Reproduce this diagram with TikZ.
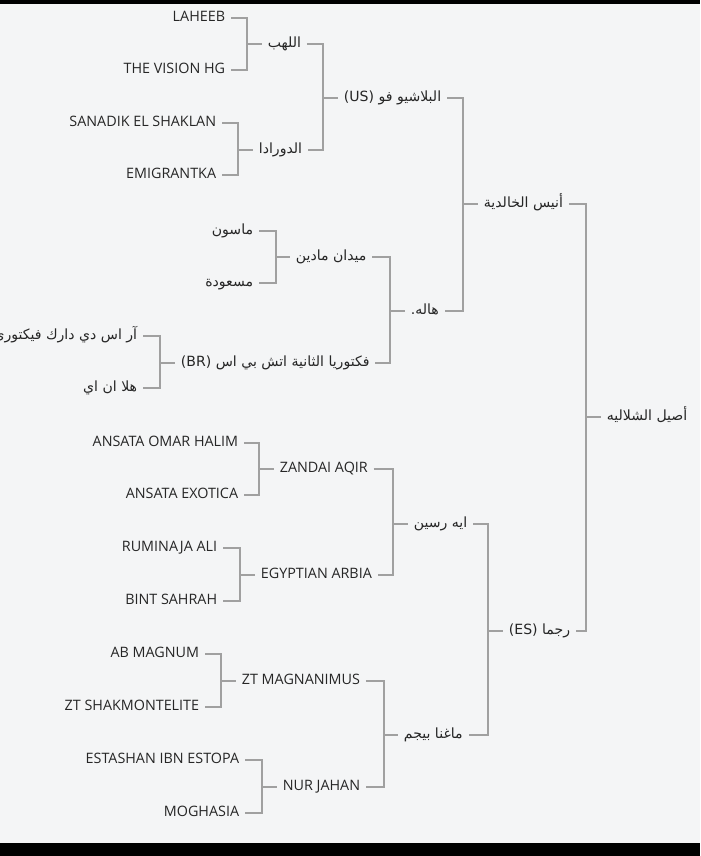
\documentclass[tikz,border=0pt]{standalone}
\usepackage{fontspec}
\setmainfont{Open Sans}
\newfontfamily\arabicfont[Script=Arabic]{DejaVu Sans}
\TeXXeTstate=1
\usepackage{tikz}
\usetikzlibrary{positioning}
\usepackage{xcolor}
\definecolor{paper}{HTML}{F4F5F6}
\definecolor{ink}{HTML}{262626}
\definecolor{wire}{HTML}{A0A0A0}
\newcommand{\artext}[1]{{\arabicfont\fontsize{10}{12}\selectfont\beginR #1\endR}}

\begin{document}
\begin{tikzpicture}[x=0.025cm, y=-0.025cm]
		% 定义样式
		\tikzstyle{leaf} = [anchor=east, inner xsep=4pt, inner ysep=0pt, text height=7pt, text depth=2pt, text=ink, font=\fontsize{10.2}{12}\selectfont]	% 最外一代
		\tikzstyle{horse} = [anchor=west, inner xsep=4pt, inner ysep=0pt, text height=7pt, text depth=2pt, text=ink, font=\fontsize{10.2}{12}\selectfont]	% 中间各代
		\tikzstyle{link} = [draw=wire, line width=1.4pt]	% 连线
		\useasboundingbox (0,0) rectangle (700,856);
		\fill [paper] (0,0) rectangle (700,856);
		\fill [black] (0,0) rectangle (700,4);
		\fill [black] (0,843) rectangle (700,856);

		% 第四代
		\node (l1) [leaf] at (231,18) {LAHEEB};
		\node (l2) [leaf] at (231,70) {THE VISION HG};
		\node (l3) [leaf] at (222,123) {SANADIK EL SHAKLAN};
		\node (l4) [leaf] at (222,175) {EMIGRANTKA};
		\node (l5) [leaf] at (259,231) {\artext{ماسون}};
		\node (l6) [leaf] at (259,283) {\artext{مسعودة}};
		\node (l7) [leaf] at (143,336) {\artext{آر اس دي دارك فيكتوري}};
		\node (l8) [leaf] at (143,388) {\artext{هلا ان اي}};
		\node (l9) [leaf] at (244,443) {ANSATA OMAR HALIM};
		\node (l10) [leaf] at (244,495) {ANSATA EXOTICA};
		\node (l11) [leaf] at (223,548) {RUMINAJA ALI};
		\node (l12) [leaf] at (223,601) {BINT SAHRAH};
		\node (l13) [leaf] at (205,654) {AB MAGNUM};
		\node (l14) [leaf] at (205,707) {ZT SHAKMONTELITE};
		\node (l15) [leaf] at (245,760) {ESTASHAN IBN ESTOPA};
		\node (l16) [leaf] at (245,813) {MOGHASIA};

		% 第三代
		\node (lahab) [horse] at (262,44) {\artext{اللهب}};
		\node (dorada) [horse] at (253,150) {\artext{الدورادا}};
		\node (maydan) [horse] at (290,257) {\artext{ميدان مادين}};
		\node (victoria) [horse] at (175,363) {\artext{فكتوريا الثانية اتش بي اس \beginL(BR)\endL}};
		\node (zandai) [horse] at (274,469) {ZANDAI AQIR};
		\node (egyptian) [horse] at (255,575) {EGYPTIAN ARBIA};
		\node (magnanimus) [horse] at (236,681) {ZT MAGNANIMUS};
		\node (nurjahan) [horse] at (277,787) {NUR JAHAN};

		% 第二代
		\node (ballashio) [horse] at (338,98) {\artext{البلاشيو فو \beginL(US)\endL}};
		\node (hala) [horse] at (405,311) {\artext{هاله.}};
		\node (ayah) [horse] at (408,524) {\artext{ايه رسين}};
		\node (magna) [horse] at (398,735) {\artext{ماغنا بيجم}};

		% 第一代
		\node (anis) [horse] at (478,204) {\artext{أنيس الخالدية}};
		\node (rajma) [horse] at (503,631) {\artext{رجما \beginL(ES)\endL}};
		\node (asil) [horse] at (601,417) {\artext{أصيل الشلاليه}};

		% 分叉点
		\coordinate (j1) at (247,44);
		\coordinate (j2) at (238,150);
		\coordinate (j3) at (276,257);
		\coordinate (j4) at (160,363);
		\coordinate (j5) at (259,469);
		\coordinate (j6) at (240,575);
		\coordinate (j7) at (221,681);
		\coordinate (j8) at (262,787);
		\coordinate (j9) at (323,98);
		\coordinate (j10) at (390,311);
		\coordinate (j11) at (393,524);
		\coordinate (j12) at (384,735);
		\coordinate (j13) at (463,204);
		\coordinate (j14) at (488,631);
		\coordinate (j15) at (586,417);

		% 连线
		\draw [link](l1.east) -| (j1) |- (l2.east);
		\draw [link](j1) -- (lahab.west);
		\draw [link](l3.east) -| (j2) |- (l4.east);
		\draw [link](j2) -- (dorada.west);
		\draw [link](l5.east) -| (j3) |- (l6.east);
		\draw [link](j3) -- (maydan.west);
		\draw [link](l7.east) -| (j4) |- (l8.east);
		\draw [link](j4) -- (victoria.west);
		\draw [link](l9.east) -| (j5) |- (l10.east);
		\draw [link](j5) -- (zandai.west);
		\draw [link](l11.east) -| (j6) |- (l12.east);
		\draw [link](j6) -- (egyptian.west);
		\draw [link](l13.east) -| (j7) |- (l14.east);
		\draw [link](j7) -- (magnanimus.west);
		\draw [link](l15.east) -| (j8) |- (l16.east);
		\draw [link](j8) -- (nurjahan.west);
		\draw [link](lahab.east) -| (j9) |- (dorada.east);
		\draw [link](j9) -- (ballashio.west);
		\draw [link](maydan.east) -| (j10) |- (victoria.east);
		\draw [link](j10) -- (hala.west);
		\draw [link](zandai.east) -| (j11) |- (egyptian.east);
		\draw [link](j11) -- (ayah.west);
		\draw [link](magnanimus.east) -| (j12) |- (nurjahan.east);
		\draw [link](j12) -- (magna.west);
		\draw [link](ballashio.east) -| (j13) |- (hala.east);
		\draw [link](j13) -- (anis.west);
		\draw [link](ayah.east) -| (j14) |- (magna.east);
		\draw [link](j14) -- (rajma.west);
		\draw [link](anis.east) -| (j15) |- (rajma.east);
		\draw [link](j15) -- (asil.west);
	\end{tikzpicture}
\end{document}
